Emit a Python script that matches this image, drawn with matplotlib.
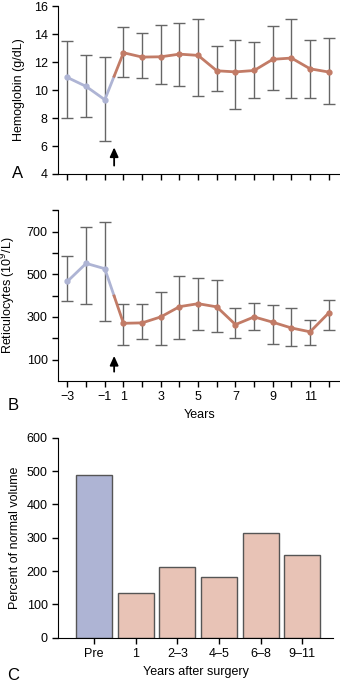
import matplotlib.pyplot as plt
import numpy as np

plt.rcParams['font.family'] = ['Liberation Sans', 'DejaVu Sans']

# years (no year 0), plotted at equal spacing
years = [-3, -2, -1, 1, 2, 3, 4, 5, 6, 7, 8, 9, 10, 11, 12]
n_pre = 3

hb_mean = [10.9, 10.26, 9.31, 12.67, 12.36, 12.38, 12.57, 12.48, 11.38, 11.3, 11.4, 12.2, 12.29, 11.52, 11.29]
hb_hi = [13.52, 12.48, 12.38, 14.48, 14.1, 14.67, 14.83, 15.1, 13.17, 13.6, 13.43, 14.57, 15.1, 13.55, 13.74]
hb_lo = [7.98, 8.1, 6.33, 10.9, 10.88, 10.45, 10.27, 9.6, 9.9, 8.67, 9.45, 10.02, 9.43, 9.43, 9.02]

ret_mean = [467, 551, 526, 270, 272, 300, 348, 362, 347, 264, 300, 275, 248, 230, 319]
ret_hi = [587, 722, 745, 362, 362, 416, 492, 481, 472, 342, 366, 355, 341, 284, 381]
ret_lo = [373, 362, 280, 169, 197, 169, 197, 237, 230, 202, 237, 175, 162, 169, 237]

vol_cats = ["Pre", "1", "2\u20133", "4\u20135", "6\u20138", "9\u201311"]
vol_vals = [489, 133, 212, 182, 315, 248]

blue = "#aeb4d4"
red = "#c27b66"
err_col = "#666666"

fig = plt.figure(figsize=(3.4, 6.85), dpi=100)
axA = fig.add_axes([0.171, 0.746, 0.829, 0.245])
axB = fig.add_axes([0.171, 0.444, 0.829, 0.249])
axC = fig.add_axes([0.171, 0.069, 0.809, 0.292])


def line_panel(ax, mean, hi, lo):
    x = np.arange(len(mean))
    mean = np.array(mean)
    ax.errorbar(x, mean, yerr=[mean - np.array(lo), np.array(hi) - mean], fmt="none",
                ecolor=err_col, elinewidth=1, capsize=4, capthick=1, zorder=1)
    # split the segment between last pre-op and first post-op point at the midpoint
    xm = (x[n_pre - 1] + x[n_pre]) / 2
    ym = (mean[n_pre - 1] + mean[n_pre]) / 2
    ax.plot(list(x[:n_pre]) + [xm], list(mean[:n_pre]) + [ym], color=blue, lw=2, zorder=2)
    ax.plot([xm] + list(x[n_pre:]), [ym] + list(mean[n_pre:]), color=red, lw=2, zorder=2)
    ax.plot(x[:n_pre], mean[:n_pre], "o", color=blue, ms=3.5, zorder=3)
    ax.plot(x[n_pre:], mean[n_pre:], "o", color=red, ms=3.5, zorder=3)
    ax.set_xlim(-0.5, 14.6)
    ax.set_xticks(x)
    for s in ["top", "right"]:
        ax.spines[s].set_visible(False)
    ax.tick_params(direction="out", labelsize=9, length=4, width=1)
    return xm


# A: hemoglobin
xm = line_panel(axA, hb_mean, hb_hi, hb_lo)
axA.set_ylim(4, 16)
axA.set_yticks(range(4, 17, 2))
axA.set_xticklabels([])
axA.set_ylabel("Hemoglobin (g/dL)", fontsize=9, labelpad=6)
axA.annotate("", xy=(xm, 6.1), xytext=(xm, 4.4),
             arrowprops=dict(arrowstyle="-|>,head_width=0.25,head_length=0.55", color="black", lw=1.3))

# B: reticulocytes
xm = line_panel(axB, ret_mean, ret_hi, ret_lo)
axB.set_ylim(0, 800)
axB.set_yticks(range(100, 801, 100))
axB.set_yticklabels([str(v) if v in (100, 300, 500, 700) else "" for v in range(100, 801, 100)])
axB.set_xticklabels([str(y).replace("-", "\u2212") if y % 2 else "" for y in years])
axB.set_ylabel("Reticulocytes (10$^9$/L)", fontsize=9, labelpad=6)
axB.set_xlabel("Years", fontsize=9, labelpad=4)
axB.annotate("", xy=(xm, 130), xytext=(xm, 30),
             arrowprops=dict(arrowstyle="-|>,head_width=0.25,head_length=0.55", color="black", lw=1.3))

# C: spleen volume
xc = np.arange(len(vol_cats))
axC.bar(xc, vol_vals, width=0.86, color=[blue] + ["#e8c3b6"] * (len(vol_cats) - 1),
        edgecolor="#555555", linewidth=1)
axC.set_xlim(-0.86, 5.74)
axC.set_ylim(0, 600)
axC.set_yticks(range(0, 601, 100))
axC.set_xticks(xc)
axC.set_xticklabels(vol_cats)
axC.set_ylabel("Percent of normal volume", fontsize=9)
axC.set_xlabel("Years after surgery", fontsize=9)
for s in ["top", "right"]:
    axC.spines[s].set_visible(False)
axC.tick_params(direction="out", labelsize=9, length=4, width=1)

fig.text(18 / 340, 1 - 174 / 685, "A", fontsize=12, ha="center", va="center")
fig.text(13 / 340, 1 - 405 / 685, "B", fontsize=12, ha="center", va="center")
fig.text(13 / 340, 1 - 675 / 685, "C", fontsize=12, ha="center", va="center")

fig.savefig("out.png", dpi=100)
